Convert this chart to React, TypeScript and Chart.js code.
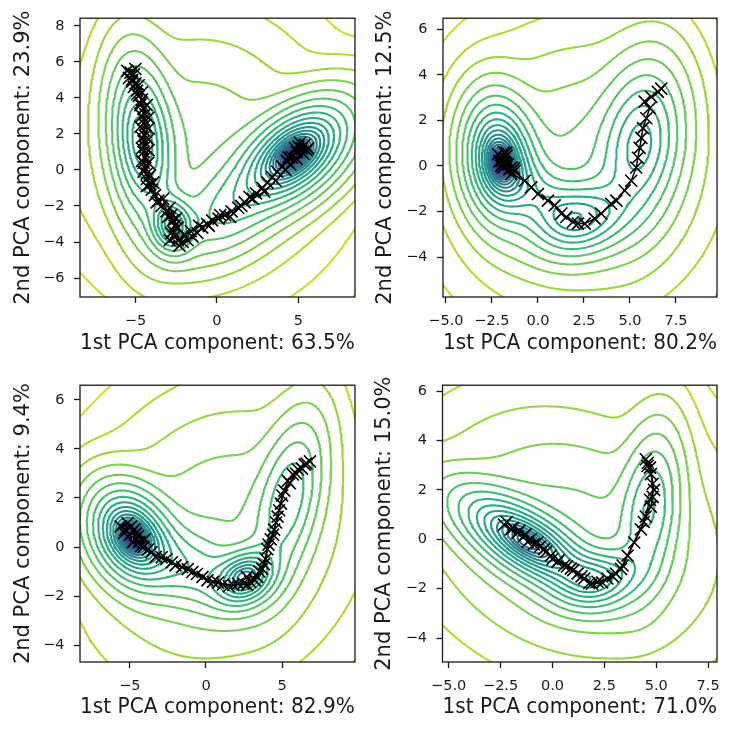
import React, { useEffect, useRef } from "react";
import { Chart, registerables } from "chart.js";
Chart.register(...registerables);

// ---------- shared contour levels (relative negative log-density) ----------
const LEVELS = [0.008, 0.0106, 0.0142, 0.0188, 0.025, 0.0333, 0.0443, 0.0589, 0.0783, 0.104, 0.139, 0.184, 0.245, 0.326, 0.434, 0.577, 0.767, 1.02, 1.36, 1.81, 2.4, 3.19, 4.25, 5.65, 7.51, 9.99, 13.3];

// ---------- panel 1 ----------
const P1_XLIM = [-8.4, 8.47];
const P1_YLIM = [-7.05, 8.42];
const P1_XTICKS = [-5, 0, 5];
const P1_YTICKS = [-6, -4, -2, 0, 2, 4, 6, 8];
const P1_XLABEL = "1st PCA component: 63.5%";
const P1_YLABEL = "2nd PCA component: 23.9%";
const P1_MU_X = [4.8, -2.75, -4.6, 0.5, -1.0];
const P1_MU_Y = [0.9, -3.1, 1.6, -2.3, 1.5];
const P1_SIG_A = [2.2, 0.9, 2.5, 2.2, 3.4];
const P1_SIG_B = [1.25, 0.75, 1.05, 1.3, 3.2];
const P1_ANGLE = [34, 100, 97, 30, 0];
const P1_WEIGHT = [0.45, 0.07, 0.27, 0.11, 0.13];
const P1_OFFSET = 0;
const P1_TRAJ_X = [-5.3, -5.1, -5.4, -5.2, -5.0, -5.1, -4.9, -4.8, -4.6, -4.7, -4.5, -4.4, -4.5, -4.4, -4.5, -4.4, -4.5, -4.4, -4.5, -4.4, -4.5, -4.4, -4.3, -4.3, -4.1, -4.0, -3.8, -3.6, -3.4, -3.1, -2.8, -2.7, -2.6, -2.7, -2.6, -2.4, -2.1, -1.8, -1.5, -1.2, -0.9, -0.6, -0.3, 0.1, 0.5, 0.9, 1.3, 1.7, 2.0, 2.4, 2.8, 3.1, 3.4, 3.7, 4.0, 4.3, 4.6, 4.9, 5.2, 5.4, 5.1, 4.8, 5.5];
const P1_TRAJ_Y = [5.4, 5.3, 5.1, 5.0, 4.8, 4.6, 4.4, 4.1, 3.9, 3.6, 3.4, 3.1, 2.8, 2.5, 2.2, 1.9, 1.6, 1.3, 1.0, 0.7, 0.4, 0.1, -0.2, -0.5, -0.8, -1.1, -1.4, -1.7, -2.0, -2.3, -2.5, -2.8, -3.1, -3.4, -3.7, -3.9, -4.0, -3.9, -3.7, -3.5, -3.2, -3.0, -2.8, -2.7, -2.5, -2.3, -2.1, -1.8, -1.5, -1.3, -1.0, -0.7, -0.4, -0.1, 0.2, 0.5, 0.7, 1.0, 1.2, 1.4, 1.5, 1.2, 1.1];
const P1_TRAJ2_X = [-5.5, -5.0, -5.2, -4.8, -4.9, -4.6, -4.7, -4.3, -4.6, -4.2, -4.7, -4.2, -4.6, -4.2, -4.6, -4.2, -4.6, -4.2, -4.5, -4.1, -4.3, -3.9, -3.7, -3.3, -3.0, -2.9, -2.5, -2.8, -2.4, -2.9, -2.3, -2.0, -1.6, -1.1, -0.5, 0.2, 0.8, 1.5, 2.2, 2.9, 3.6, 4.2, 4.5, 4.9, 5.3, 5.6, 5.0, 4.4];
const P1_TRAJ2_Y = [5.5, 5.6, 4.9, 4.7, 4.2, 4.3, 3.7, 3.6, 3.0, 2.9, 2.4, 2.3, 1.8, 1.7, 1.2, 1.1, 0.5, 0.4, -0.1, -0.3, -0.9, -0.7, -1.8, -1.6, -2.6, -2.1, -2.7, -3.5, -3.2, -3.9, -4.2, -3.6, -3.4, -3.1, -3.1, -2.5, -2.6, -2.0, -1.6, -1.2, -0.6, 0.0, 0.3, 0.6, 0.9, 1.2, 1.3, 0.7];

// ---------- panel 2 ----------
const P2_XLIM = [-5.16, 9.73];
const P2_YLIM = [-5.75, 6.48];
const P2_XTICKS = [-5, -2.5, 0, 2.5, 5, 7.5];
const P2_YTICKS = [-4, -2, 0, 2, 4, 6];
const P2_XLABEL = "1st PCA component: 80.2%";
const P2_YLABEL = "2nd PCA component: 12.5%";
const P2_MU_X = [-2.1, 2.3, 5.6, 0.0, 2.5];
const P2_MU_Y = [0.25, -2.3, 1.0, -1.3, 0.0];
const P2_SIG_A = [1.5, 1.6, 2.0, 1.5, 3.0];
const P2_SIG_B = [1.05, 0.95, 1.25, 0.9, 2.6];
const P2_ANGLE = [100, 10, 78, -30, 0];
const P2_WEIGHT = [0.35, 0.19, 0.28, 0.08, 0.2];
const P2_OFFSET = 0;
const P2_TRAJ_X = [-2.17, -1.99, -1.81, -1.72, -1.9, -1.63, -1.45, -1.27, -1.45, -0.72, -0.36, 0.0, 0.54, 0.91, 1.27, 1.54, 1.9, 2.17, 2.54, 3.08, 3.44, 3.98, 4.26, 4.71, 5.07, 5.34, 5.43, 5.53, 5.62, 5.71, 5.89, 6.07, 5.8, 6.16, 6.52, 6.7];
const P2_TRAJ_Y = [0.51, 0.22, 0.36, 0.58, -0.07, 0.07, -0.07, -0.22, -0.36, -0.65, -0.94, -1.23, -1.52, -1.73, -2.09, -2.24, -2.46, -2.53, -2.53, -2.31, -2.09, -1.66, -1.52, -1.08, -0.65, -0.07, 0.36, 0.79, 1.23, 1.66, 2.09, 2.53, 2.82, 3.03, 3.25, 3.39];
const P2_TRAJ2_X = [-2.1, -1.7, -1.55, -2.0, -1.85, -1.3];
const P2_TRAJ2_Y = [0.2, 0.45, -0.15, 0.0, 0.6, -0.1];

// ---------- panel 3 ----------
const P3_XLIM = [-8.27, 9.78];
const P3_YLIM = [-4.69, 6.6];
const P3_XTICKS = [-5, 0, 5];
const P3_YTICKS = [-4, -2, 0, 2, 4, 6];
const P3_XLABEL = "1st PCA component: 82.9%";
const P3_YLABEL = "2nd PCA component: 9.4%";
const P3_MU_X = [-4.9, 2.6, -1.0, 5.4, 1.0];
const P3_MU_Y = [0.45, -1.25, -0.9, 2.0, 0.5];
const P3_SIG_A = [1.6, 1.2, 2.2, 2.0, 4.0];
const P3_SIG_B = [1.05, 0.65, 0.9, 1.1, 2.6];
const P3_ANGLE = [-20, 10, -12, 65, 10];
const P3_WEIGHT = [0.35, 0.12, 0.11, 0.15, 0.2];
const P3_OFFSET = 0;
const P3_TRAJ_X = [-5.6, -5.15, -5.37, -4.92, -4.7, -4.48, -4.03, -4.25, -3.58, -2.91, -2.24, -1.57, -0.9, -0.23, 0.45, 1.11, 1.79, 2.46, 2.91, 2.68, 3.36, 3.69, 3.91, 4.03, 4.25, 4.47, 4.7, 4.92, 5.14, 5.37, 5.7, 6.04, 6.48, 6.82];
const P3_TRAJ_Y = [0.84, 0.97, 0.57, 0.84, 0.71, 0.44, 0.31, 0.04, -0.22, -0.42, -0.62, -0.82, -1.02, -1.22, -1.42, -1.53, -1.55, -1.49, -1.42, -1.22, -1.22, -0.89, -0.49, -0.09, 0.31, 0.71, 1.24, 1.77, 2.3, 2.7, 2.96, 3.16, 3.36, 3.49];
const P3_TRAJ2_X = [-5.3, -5.0, -4.6, -4.8, -4.4, -4.1, -3.8, -3.3, -2.6, -2.0, -1.2, -0.6, 0.1, 0.8, 1.5, 2.1, 2.7, 3.2, 3.5, 3.8, 4.1, 4.4, 4.6, 4.8, 5.0, 5.5, 5.9, 6.3, 6.6];
const P3_TRAJ2_Y = [0.7, 0.5, 0.55, 0.2, 0.2, 0.0, -0.1, -0.4, -0.5, -0.75, -0.9, -1.1, -1.35, -1.45, -1.6, -1.5, -1.55, -1.35, -1.0, -0.7, 0.1, 0.5, 1.0, 1.5, 2.1, 2.6, 3.0, 3.2, 3.4];

// ---------- panel 4 ----------
const P4_XLIM = [-5.3, 7.93];
const P4_YLIM = [-4.97, 6.24];
const P4_XTICKS = [-5, -2.5, 0, 2.5, 5, 7.5];
const P4_YTICKS = [-4, -2, 0, 2, 4, 6];
const P4_XLABEL = "1st PCA component: 71.0%";
const P4_YLABEL = "2nd PCA component: 15.0%";
const P4_MU_X = [-1.3, 2.3, 4.7, 1.0];
const P4_MU_Y = [-0.1, -1.6, 1.3, 0.3];
const P4_SIG_A = [2.2, 1.3, 1.8, 3.5];
const P4_SIG_B = [0.8, 0.7, 0.8, 2.4];
const P4_ANGLE = [-27, 10, 82, -15];
const P4_WEIGHT = [0.38, 0.1, 0.12, 0.25];
const P4_OFFSET = 0.08;
const P4_TRAJ_X = [-2.33, -2.01, -1.69, -1.37, -1.05, -0.72, -0.4, -0.08, 0.24, 0.56, 0.88, 1.21, 1.53, 1.77, 2.17, 2.65, 3.06, 3.38, 3.62, 3.94, 4.26, 4.5, 4.74, 4.83, 4.83, 4.74, 4.58, 4.5];
const P4_TRAJ_Y = [0.59, 0.4, 0.26, 0.13, 0.0, -0.13, -0.4, -0.66, -0.92, -1.06, -1.19, -1.39, -1.59, -1.78, -1.72, -1.59, -1.39, -1.06, -0.66, -0.13, 0.4, 0.92, 1.32, 1.72, 2.25, 2.64, 2.97, 3.24];
const P4_TRAJ2_X = [-2.2, -1.9, -1.6, -1.3, -1.2, -0.9, -0.6, -0.3, 0.0, 0.3, 0.7, 1.0, 1.4, 1.9, 2.4, 2.9, 3.3, 4.4, 4.7, 4.9, 4.7, 4.6];
const P4_TRAJ2_Y = [0.7, 0.45, 0.35, 0.2, -0.1, -0.2, -0.3, -0.5, -0.8, -0.85, -1.1, -1.25, -1.5, -1.8, -1.75, -1.5, -1.2, 0.7, 1.6, 2.0, 2.9, 3.1];

// ---------- styling ----------
const FONT = "DejaVu Sans";
const INK = "#1a1a1a";
const VIRIDIS = ["#440154", "#482475", "#414487", "#355f8d", "#2a788e", "#21918c", "#22a884", "#44bf70", "#7ad151", "#bddf26", "#fde725"];

function hexToRgb(h: string) {
  return [parseInt(h.slice(1, 3), 16), parseInt(h.slice(3, 5), 16), parseInt(h.slice(5, 7), 16)];
}
function viridis(t: number) {
  const tt = Math.max(0, Math.min(1, t));
  const f = tt * 10;
  const i = Math.min(9, Math.floor(f));
  const u = f - i;
  const a = hexToRgb(VIRIDIS[i]);
  const b = hexToRgb(VIRIDIS[i + 1]);
  const c = a.map((v, k) => Math.round(v + (b[k] - v) * u));
  return `rgb(${c[0]},${c[1]},${c[2]})`;
}

type Comp = { mx: number; my: number; sa: number; sb: number; ang: number; w: number };

function field(comps: Comp[], xs: number[], ys: number[], offset: number) {
  const nx = xs.length, ny = ys.length;
  const Z = new Float64Array(nx * ny);
  const pre = comps.map((c) => {
    const th = (c.ang * Math.PI) / 180;
    const cs = Math.cos(th), sn = Math.sin(th);
    const a2 = c.sa * c.sa, b2 = c.sb * c.sb;
    const sxx = a2 * cs * cs + b2 * sn * sn;
    const syy = a2 * sn * sn + b2 * cs * cs;
    const sxy = (a2 - b2) * cs * sn;
    const det = a2 * b2;
    return { mx: c.mx, my: c.my, ixx: syy / det, iyy: sxx / det, ixy: -sxy / det, norm: c.w / (2 * Math.PI * c.sa * c.sb) };
  });
  let pmax = 0;
  for (let j = 0; j < ny; j++) {
    for (let i = 0; i < nx; i++) {
      let p = 0;
      for (const c of pre) {
        const dx = xs[i] - c.mx, dy = ys[j] - c.my;
        p += c.norm * Math.exp(-0.5 * (c.ixx * dx * dx + 2 * c.ixy * dx * dy + c.iyy * dy * dy));
      }
      Z[j * nx + i] = p;
      if (p > pmax) pmax = p;
    }
  }
  for (let k = 0; k < Z.length; k++) Z[k] = -Math.log(Z[k] / pmax) + offset;
  return Z;
}

function contourLines(xs: number[], ys: number[], Z: Float64Array, level: number) {
  const nx = xs.length, ny = ys.length;
  const hCount = (nx - 1) * ny;
  const total = hCount + nx * (ny - 1);
  const ex = new Float64Array(total), ey = new Float64Array(total);
  const segA: number[] = [], segB: number[] = [];
  const hE = (i: number, j: number) => {
    const id = j * (nx - 1) + i;
    const z0 = Z[j * nx + i], z1 = Z[j * nx + i + 1];
    const t = (level - z0) / (z1 - z0);
    ex[id] = xs[i] + t * (xs[i + 1] - xs[i]);
    ey[id] = ys[j];
    return id;
  };
  const vE = (i: number, j: number) => {
    const id = hCount + j * nx + i;
    const z0 = Z[j * nx + i], z1 = Z[(j + 1) * nx + i];
    const t = (level - z0) / (z1 - z0);
    ex[id] = xs[i];
    ey[id] = ys[j] + t * (ys[j + 1] - ys[j]);
    return id;
  };
  const add = (a: number, b: number) => { segA.push(a); segB.push(b); };
  for (let j = 0; j < ny - 1; j++) {
    for (let i = 0; i < nx - 1; i++) {
      const z00 = Z[j * nx + i], z10 = Z[j * nx + i + 1], z11 = Z[(j + 1) * nx + i + 1], z01 = Z[(j + 1) * nx + i];
      const c = (z00 < level ? 1 : 0) | (z10 < level ? 2 : 0) | (z11 < level ? 4 : 0) | (z01 < level ? 8 : 0);
      if (c === 0 || c === 15) continue;
      switch (c) {
        case 1: case 14: add(vE(i, j), hE(i, j)); break;
        case 2: case 13: add(hE(i, j), vE(i + 1, j)); break;
        case 3: case 12: add(vE(i, j), vE(i + 1, j)); break;
        case 4: case 11: add(vE(i + 1, j), hE(i, j + 1)); break;
        case 6: case 9: add(hE(i, j), hE(i, j + 1)); break;
        case 7: case 8: add(vE(i, j), hE(i, j + 1)); break;
        case 5: {
          const ctr = (z00 + z10 + z11 + z01) / 4;
          if (ctr < level) { add(hE(i, j), vE(i + 1, j)); add(hE(i, j + 1), vE(i, j)); }
          else { add(vE(i, j), hE(i, j)); add(vE(i + 1, j), hE(i, j + 1)); }
          break;
        }
        case 10: {
          const ctr = (z00 + z10 + z11 + z01) / 4;
          if (ctr < level) { add(vE(i, j), hE(i, j)); add(vE(i + 1, j), hE(i, j + 1)); }
          else { add(hE(i, j), vE(i + 1, j)); add(hE(i, j + 1), vE(i, j)); }
          break;
        }
      }
    }
  }
  const adj = new Map<number, number[]>();
  for (let s = 0; s < segA.length; s++) {
    for (const e of [segA[s], segB[s]]) {
      const l = adj.get(e);
      if (l) l.push(s); else adj.set(e, [s]);
    }
  }
  const used = new Uint8Array(segA.length);
  const lines: { x: number; y: number }[][] = [];
  const walk = (start: number) => {
    const out: number[] = [];
    let cur = start;
    for (;;) {
      const l = adj.get(cur) || [];
      let nxt = -1;
      for (const s of l) if (!used[s]) { nxt = s; break; }
      if (nxt < 0) break;
      used[nxt] = 1;
      cur = segA[nxt] === cur ? segB[nxt] : segA[nxt];
      out.push(cur);
    }
    return out;
  };
  for (let s = 0; s < segA.length; s++) {
    if (used[s]) continue;
    used[s] = 1;
    const fwd = walk(segB[s]);
    const back = walk(segA[s]);
    const ids = back.reverse().concat([segA[s], segB[s]], fwd);
    lines.push(ids.map((id) => ({ x: ex[id], y: ey[id] })));
  }
  return lines;
}

type PanelCfg = {
  xlim: number[]; ylim: number[]; xticks: number[]; yticks: number[];
  xdec: number; xlabel: string; ylabel: string;
  mux: number[]; muy: number[]; sa: number[]; sb: number[]; ang: number[]; w: number[]; offset: number;
  trajs: number[][][];
  box: number[]; area: number[]; xTitlePad: number; yTitlePad: number;
};

const PANELS: PanelCfg[] = [
  { xlim: P1_XLIM, ylim: P1_YLIM, xticks: P1_XTICKS, yticks: P1_YTICKS, xdec: 0, xlabel: P1_XLABEL, ylabel: P1_YLABEL,
    mux: P1_MU_X, muy: P1_MU_Y, sa: P1_SIG_A, sb: P1_SIG_B, ang: P1_ANGLE, w: P1_WEIGHT, offset: P1_OFFSET,
    trajs: [[P1_TRAJ_X, P1_TRAJ_Y], [P1_TRAJ2_X, P1_TRAJ2_Y]],
    box: [0, 0, 367, 367], area: [80, 15, 355, 297], xTitlePad: 10.4, yTitlePad: 10.7 },
  { xlim: P2_XLIM, ylim: P2_YLIM, xticks: P2_XTICKS, yticks: P2_YTICKS, xdec: 1, xlabel: P2_XLABEL, ylabel: P2_YLABEL,
    mux: P2_MU_X, muy: P2_MU_Y, sa: P2_SIG_A, sb: P2_SIG_B, ang: P2_ANGLE, w: P2_WEIGHT, offset: P2_OFFSET,
    trajs: [[P2_TRAJ_X, P2_TRAJ_Y], [P2_TRAJ2_X, P2_TRAJ2_Y]],
    box: [367, 0, 367, 367], area: [76, 15, 350, 297], xTitlePad: 10.4, yTitlePad: 5.7 },
  { xlim: P3_XLIM, ylim: P3_YLIM, xticks: P3_XTICKS, yticks: P3_YTICKS, xdec: 0, xlabel: P3_XLABEL, ylabel: P3_YLABEL,
    mux: P3_MU_X, muy: P3_MU_Y, sa: P3_SIG_A, sb: P3_SIG_B, ang: P3_ANGLE, w: P3_WEIGHT, offset: P3_OFFSET,
    trajs: [[P3_TRAJ_X, P3_TRAJ_Y], [P3_TRAJ2_X, P3_TRAJ2_Y]],
    box: [0, 367, 367, 368], area: [80, 12, 355, 295], xTitlePad: 14.7, yTitlePad: 10.7 },
  { xlim: P4_XLIM, ylim: P4_YLIM, xticks: P4_XTICKS, yticks: P4_YTICKS, xdec: 1, xlabel: P4_XLABEL, ylabel: P4_YLABEL,
    mux: P4_MU_X, muy: P4_MU_Y, sa: P4_SIG_A, sb: P4_SIG_B, ang: P4_ANGLE, w: P4_WEIGHT, offset: P4_OFFSET,
    trajs: [[P4_TRAJ_X, P4_TRAJ_Y], [P4_TRAJ2_X, P4_TRAJ2_Y]],
    box: [367, 367, 367, 368], area: [75.5, 12, 350, 295], xTitlePad: 14.7, yTitlePad: 5.4 },
];

const fmt = (dec: number) => (v: number) => {
  const s = Math.abs(v).toFixed(dec);
  return (v < -1e-9 ? "\u2212" : "") + s;
};

const framePlugin = {
  id: "frame",
  afterDatasetsDraw(chart: any) {
    const { ctx, chartArea: a } = chart;
    ctx.save();
    ctx.strokeStyle = INK;
    ctx.lineWidth = 1.3;
    ctx.strokeRect(a.left, a.top, a.right - a.left, a.bottom - a.top);
    ctx.restore();
  },
};

function Panel({ cfg }: { cfg: PanelCfg }) {
  const ref = useRef<HTMLCanvasElement>(null);
  useEffect(() => {
    const [, , W, H] = cfg.box;
    const [al, at, ar, ab] = cfg.area;
    const N = 200;
    const dx = (cfg.xlim[1] - cfg.xlim[0]) / (N - 3);
    const dy = (cfg.ylim[1] - cfg.ylim[0]) / (N - 3);
    const xs: number[] = [], ys: number[] = [];
    for (let i = 0; i < N; i++) { xs.push(cfg.xlim[0] - dx + i * dx); ys.push(cfg.ylim[0] - dy + i * dy); }
    const comps: Comp[] = cfg.mux.map((mx, k) => ({ mx, my: cfg.muy[k], sa: cfg.sa[k], sb: cfg.sb[k], ang: cfg.ang[k], w: cfg.w[k] }));
    const Z = field(comps, xs, ys, cfg.offset);
    const datasets: any[] = [];
    LEVELS.forEach((L, k) => {
      const lines = contourLines(xs, ys, Z, L);
      if (!lines.length) return;
      const data: { x: number; y: number }[] = [];
      for (const ln of lines) { for (const p of ln) data.push(p); data.push({ x: NaN, y: NaN }); }
      datasets.push({
        data, showLine: true, borderColor: viridis(k / (LEVELS.length - 1)), borderWidth: 2.1,
        pointRadius: 0, pointHoverRadius: 0, clip: 0, order: 2, tension: 0,
        borderJoinStyle: "round", borderCapStyle: "round", spanGaps: false,
      });
    });
    for (const [tx, ty] of cfg.trajs) {
      datasets.push({
        data: tx.map((x, k) => ({ x, y: ty[k] })),
        showLine: true, borderColor: "#000", borderWidth: 1.5, pointStyle: "crossRot", pointRadius: 8.5,
        pointBorderColor: "#000", pointBorderWidth: 1.6, pointBackgroundColor: "#000", order: 0, clip: false,
      });
    }
    const tickFont = { family: FONT, size: 14.5 };
    const titleFont = { family: FONT, size: 21 };
    const chart = new Chart(ref.current as HTMLCanvasElement, {
      type: "scatter",
      data: { datasets },
      options: {
        animation: false, responsive: false, events: [],
        layout: { padding: { left: 0, top: at, right: W - ar, bottom: 0 } },
        plugins: { legend: { display: false }, tooltip: { enabled: false } },
        scales: {
          x: {
            type: "linear", min: cfg.xlim[0], max: cfg.xlim[1],
            afterBuildTicks: (s: any) => { s.ticks = cfg.xticks.map((v) => ({ value: v })); },
            afterFit: (s: any) => { s.height = H - ab; },
            ticks: { autoSkip: false, maxRotation: 0, padding: 9.5, color: INK, font: tickFont, callback: fmt(cfg.xdec) as any },
            grid: { display: true, drawOnChartArea: false, drawTicks: true, tickLength: 6, tickWidth: 1.3, tickColor: INK },
            border: { display: false },
            title: { display: true, text: cfg.xlabel, color: INK, font: titleFont, padding: { top: 0, bottom: cfg.xTitlePad } },
          },
          y: {
            type: "linear", min: cfg.ylim[0], max: cfg.ylim[1],
            afterBuildTicks: (s: any) => { s.ticks = cfg.yticks.map((v) => ({ value: v })); },
            afterFit: (s: any) => { s.width = al; },
            ticks: { autoSkip: false, padding: 9.5, color: INK, font: tickFont, callback: fmt(0) as any },
            grid: { display: true, drawOnChartArea: false, drawTicks: true, tickLength: 6, tickWidth: 1.3, tickColor: INK },
            border: { display: false },
            title: { display: true, text: cfg.ylabel, color: INK, font: titleFont, padding: { top: cfg.yTitlePad, bottom: 0 } },
          },
        },
      } as any,
      plugins: [framePlugin],
    });
    return () => chart.destroy();
  }, [cfg]);
  const [bx, by, W, H] = cfg.box;
  return (
    <canvas ref={ref} width={W} height={H}
      style={{ position: "absolute", left: bx, top: by, width: W, height: H, display: "block" }} />
  );
}

export default function App() {
  return (
    <div style={{ position: "absolute", left: 0, top: 0, width: 734, height: 735, background: "#fff", overflow: "hidden" }}>
      {PANELS.map((p, i) => <Panel key={i} cfg={p} />)}
    </div>
  );
}
